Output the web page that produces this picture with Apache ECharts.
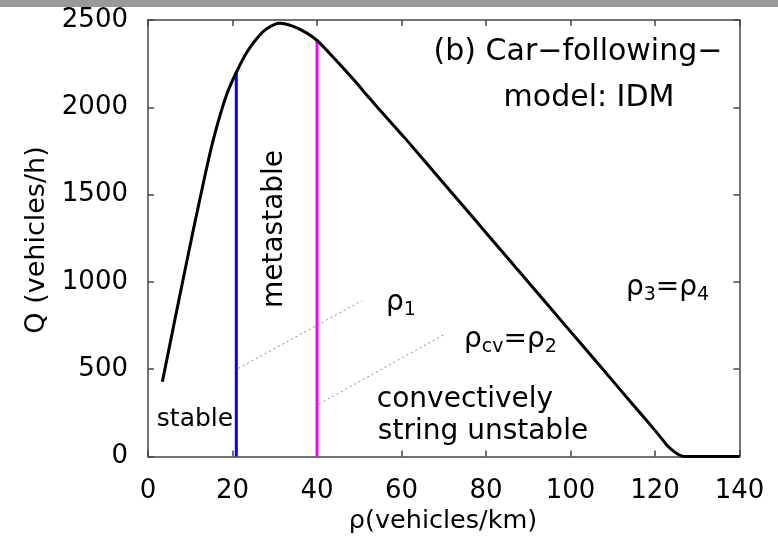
<!DOCTYPE html>
<html><head><meta charset="utf-8">
<script src="https://cdn.jsdelivr.net/npm/echarts@6/dist/echarts.min.js"></script>
<style>html,body{margin:0;padding:0;background:#fff}#c{width:778px;height:538px}</style>
</head><body><div id="c"></div>
<script>
// Flow-density curve of the IDM
const rho  = [3.4, 6.0, 8.4, 10.7, 13.0, 15.1, 17.0, 18.8, 21.0, 23.4, 25.7, 28.1, 31.2, 34.4, 37.6, 40.0, 43.9, 48.6, 52.5, 56.5, 60.5, 64.4, 72.2, 77.8, 83.3, 91.2, 99.1, 107.0, 114.9, 119.6, 121.5, 123.0, 124.3, 125.5, 126.7, 140];
const flow = [428, 740, 1025, 1295, 1555, 1780, 1950, 2085, 2205, 2315, 2393, 2450, 2481, 2463, 2425, 2383, 2285, 2160, 2050, 1940, 1832, 1723, 1502, 1344, 1188, 965, 741, 518, 294, 161, 105, 60, 32, 12, 0, 0];
// Stability boundaries
const blueLine = [[20.9, 0], [20.9, 2200]];
const magentaLine = [[40.0, 0], [40.0, 2383]];
// Dotted pointer lines
const pointer1 = [[21.4, 505], [50.6, 892]];
const pointer2 = [[40.5, 301], [69.9, 696]];
// Axis ranges / ticks
const xTicks = {min: 0, max: 140, interval: 20};
const yTicks = {min: 0, max: 2500, interval: 500};

const FONT = '"DejaVu Sans", sans-serif';
const axisCol = '#444';
function baseAxis(t, pos, showLabel, margin) {
  return {
    type: 'value', position: pos, min: t.min, max: t.max, interval: t.interval,
    axisLine: {show: true, onZero: false, lineStyle: {color: axisCol, width: 1.5}},
    axisTick: {show: true, inside: true, length: 6, lineStyle: {color: axisCol, width: 1.5}},
    axisLabel: {show: showLabel, fontSize: 26, fontFamily: FONT, color: '#000', margin: margin,
                formatter: v => String(v)},
    splitLine: {show: false}
  };
}
function txt(x, y, text, size, opts) {
  return Object.assign({
    type: 'text', x: x, y: y, silent: true,
    style: {text: text, font: size + 'px ' + FONT, fontSize: size, fontFamily: FONT, fill: '#000',
            align: 'center', verticalAlign: 'middle', textAlign: 'center', textVerticalAlign: 'middle'}
  }, opts || {});
}
function richTxt(x, y, text, size, subSize) {
  return {
    type: 'text', x: x, y: y, silent: true,
    style: {text: text, fill: '#000', align: 'left', verticalAlign: 'middle', textAlign: 'left', textVerticalAlign: 'middle',
      rich: {
        r: {fontSize: size, fontFamily: FONT, fill: '#000', lineHeight: size + 6},
        s: {fontSize: subSize, fontFamily: FONT, fill: '#000', verticalAlign: 'bottom', lineHeight: subSize}
      }}
  };
}

const chart = echarts.init(document.getElementById('c'), null, {renderer: 'canvas'});
chart.setOption({
  animation: false,
  backgroundColor: '#fff',
  grid: {left: 148, right: 38.5, top: 20, bottom: 81.5, show: false},
  xAxis: [baseAxis(xTicks, 'bottom', true, 22), baseAxis(xTicks, 'top', false, 8)],
  yAxis: [baseAxis(yTicks, 'left', true, 20), baseAxis(yTicks, 'right', false, 8)],
  series: [
    {type: 'line', data: rho.map((r, i) => [r, flow[i]]), showSymbol: false, smooth: 0.25,
     lineStyle: {color: '#000', width: 3}, z: 5},
    {type: 'line', data: blueLine, showSymbol: false, lineStyle: {color: '#0000ff', width: 3}, z: 4},
    {type: 'line', data: magentaLine, showSymbol: false, lineStyle: {color: '#ff00ff', width: 3}, z: 4},
    {type: 'line', data: pointer1, showSymbol: false, lineStyle: {color: '#888', width: 1, type: [2, 3]}, z: 3},
    {type: 'line', data: pointer2, showSymbol: false, lineStyle: {color: '#888', width: 1, type: [2, 3]}, z: 3}
  ],
  graphic: [
    {type: 'rect', shape: {x: 0, y: 0, width: 778, height: 7}, style: {fill: '#999'}, silent: true},
    txt(578, 52, '(b) Car\u2212following\u2212', 30),
    txt(589, 98, 'model: IDM', 30),
    txt(275, 229, 'metastable', 28, {rotation: Math.PI / 2}),
    txt(195, 419, 'stable', 25),
    txt(465, 400, 'convectively', 28),
    txt(483, 432, 'string unstable', 28),
    richTxt(386, 303, '{r|\u03c1}{s|1}', 28, 19),
    richTxt(464, 340, '{r|\u03c1}{s|cv}{r|=\u03c1}{s|2}', 28, 19),
    richTxt(626, 288, '{r|\u03c1}{s|3}{r|=\u03c1}{s|4}', 28, 19),
    txt(37, 240, 'Q (vehicles/h)', 27, {rotation: Math.PI / 2}),
    txt(443, 521, '\u03c1(vehicles/km)', 25.5)
  ]
});
</script></body></html>
